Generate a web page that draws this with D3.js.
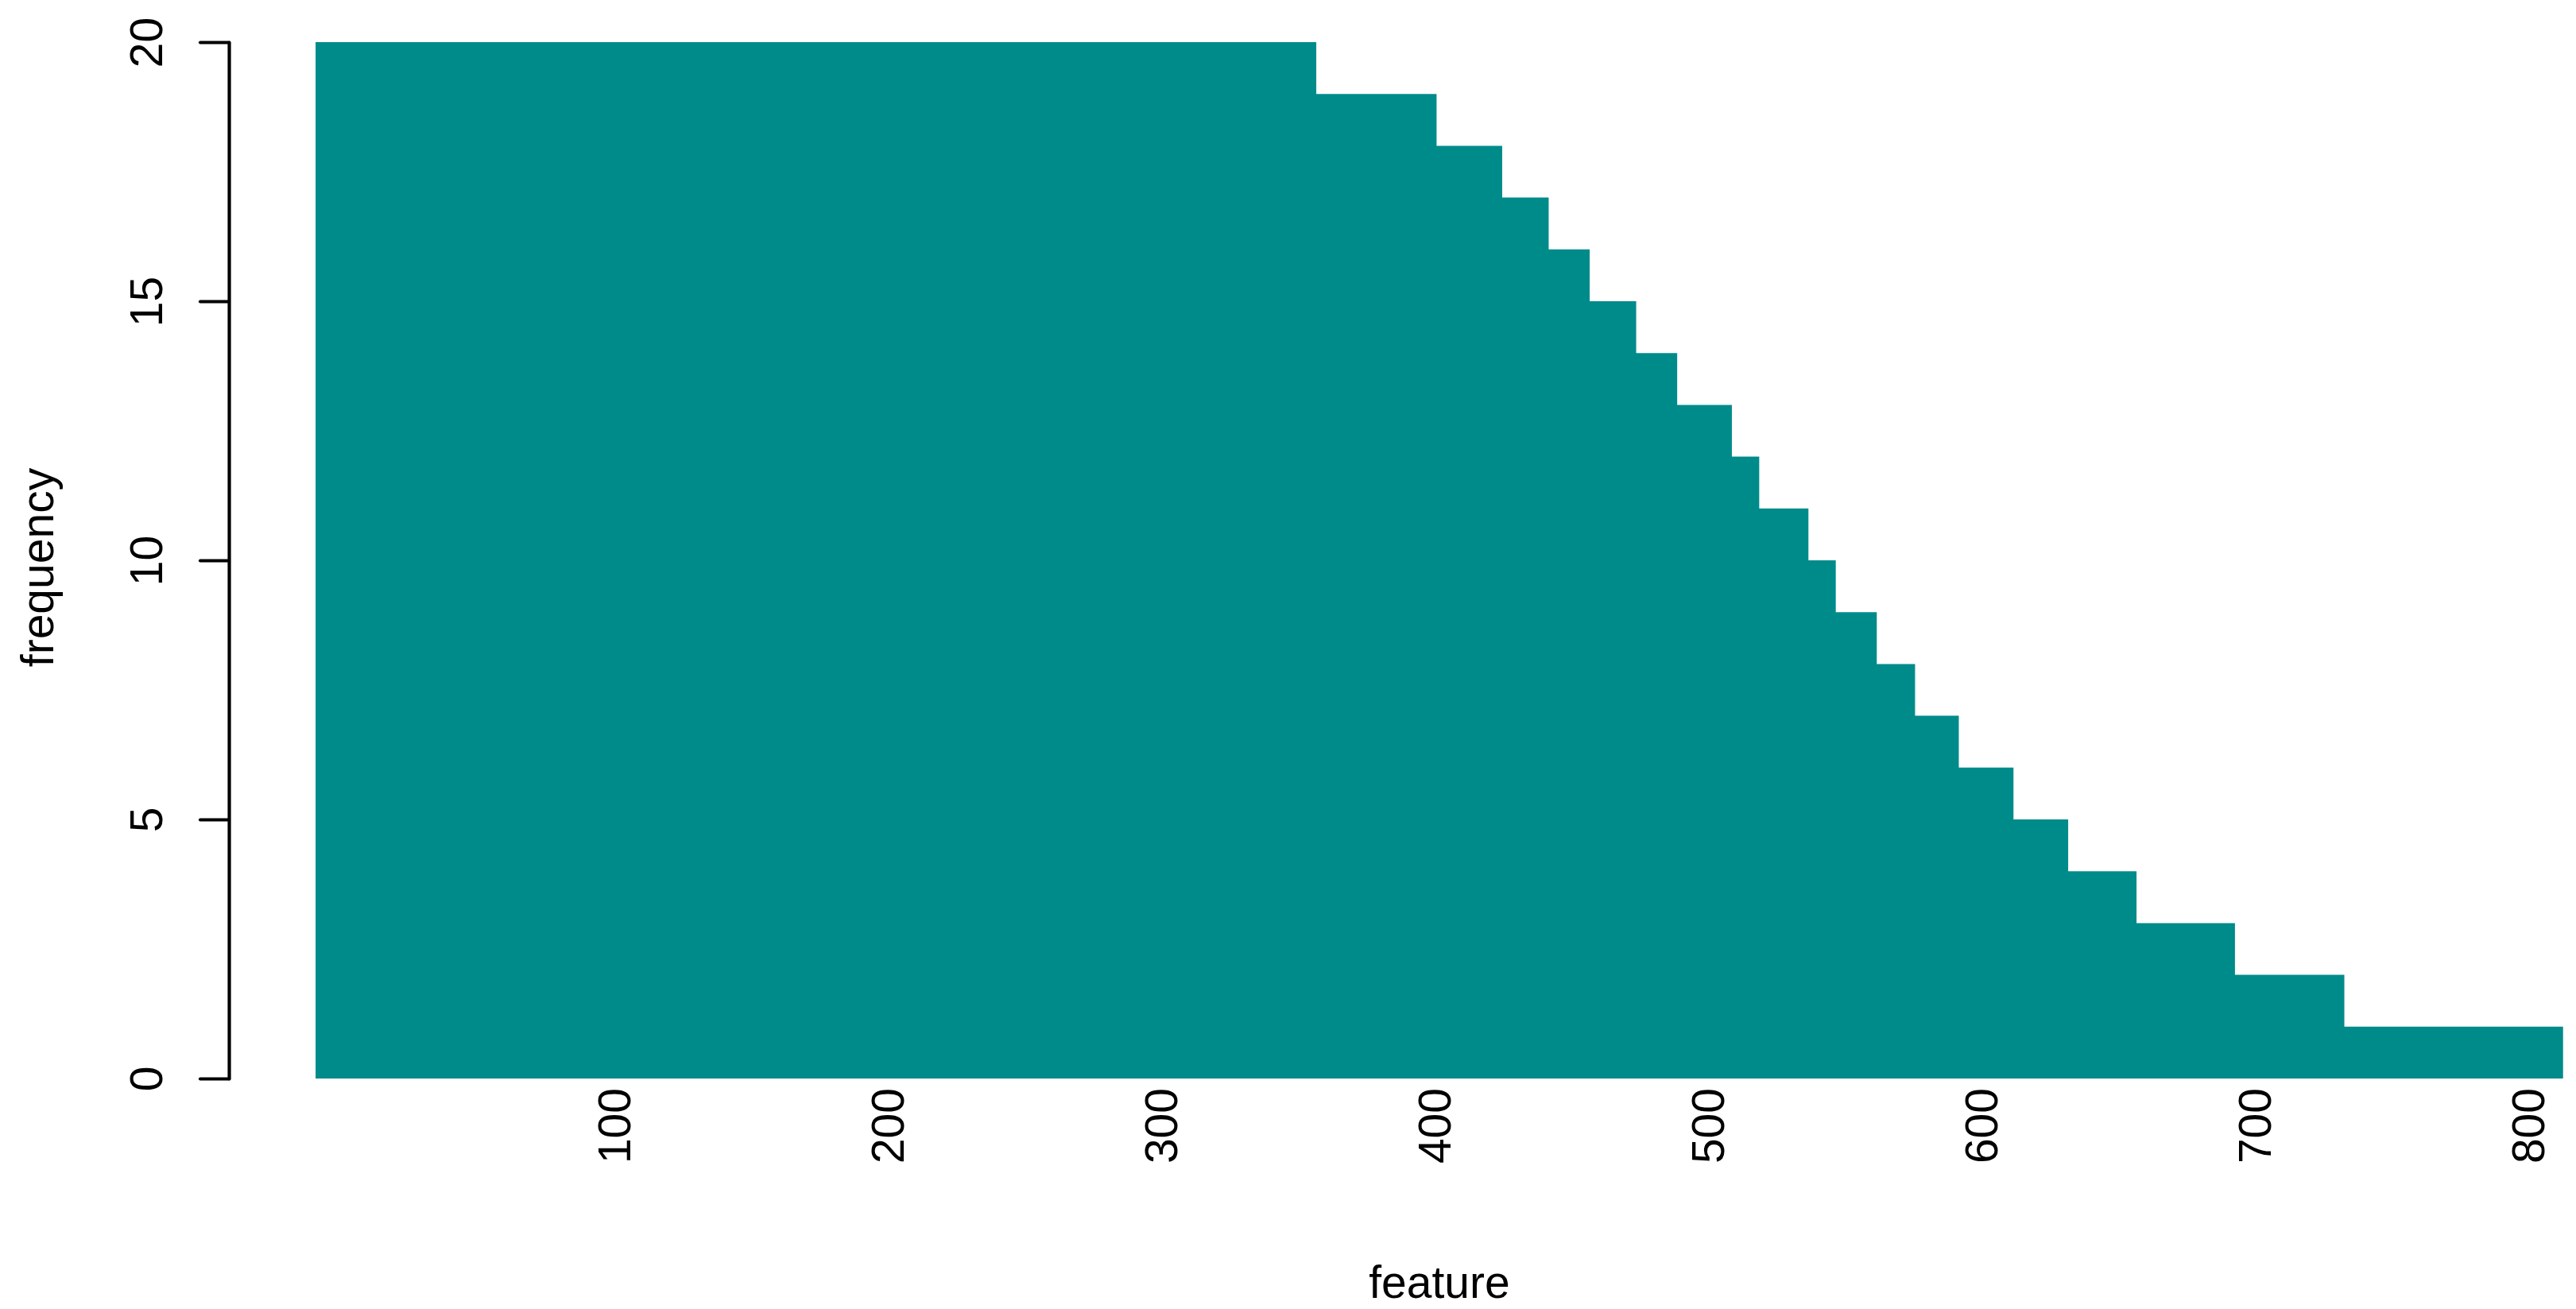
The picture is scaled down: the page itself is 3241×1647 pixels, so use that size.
<!DOCTYPE html>
<html>
<head>
<meta charset="utf-8">
<script src="https://cdn.jsdelivr.net/npm/d3@7"></script>
<style>
  body { margin: 0; background: #fff; }
  svg text { font-family: "Liberation Sans", Arial, Helvetica, sans-serif; }
</style>
</head>
<body>
<div id="chart"></div>
<script>
// frequency levels and the feature index where each level stops
var freqLevels = [20, 19, 18, 17, 16, 15, 14, 13, 12, 11, 10, 9, 8, 7, 6, 5, 4, 3, 2, 1]
var stepEnds = [357, 401, 425, 442, 457, 474, 489, 509, 519, 537, 547, 562, 576, 592, 612, 632, 657, 693, 733, 813]
var firstFeature = -9
var xTicks = [100, 200, 300, 400, 500, 600, 700, 800]
var yTicks = [0, 5, 10, 15, 20]

var width = 3241
var height = 1647
var fontSize = 57

var svg = d3.select('#chart').append("svg")
    .attr("width", width)
    .attr("height", height)

var x = d3.scaleLinear().domain([0, 800]).range([428, 3180])
var y = d3.scaleLinear().domain([0, 20]).range([1357, 53])

// build step points: each level starts where the previous one ended
var pts = freqLevels.map((f, i) => ({
    x: i == 0 ? firstFeature : stepEnds[i - 1],
    f: f
}))
pts.push({ x: stepEnds[stepEnds.length - 1], f: freqLevels[freqLevels.length - 1] })

svg.append("path")
    .datum(pts)
    .attr("fill", "#008B8B")
    .attr("d", d3.area()
        .curve(d3.curveStepAfter)
        .x(d => x(d.x))
        .y0(y(0))
        .y1(d => y(d.f)))

// y axis
var yAxis = svg.append("g")
    .attr("transform", "translate(288,0)")
    .call(d3.axisLeft(y).tickValues(yTicks).tickSize(36).tickSizeOuter(0))
yAxis.selectAll("path, line")
    .attr("stroke", "#000")
    .attr("stroke-width", 4.2)
    .attr("stroke-linecap", "round")
    .attr("stroke-linejoin", "round")
yAxis.selectAll("text")
    .attr("x", null)
    .attr("dy", 0)
    .attr("font-size", fontSize)
    .attr("fill", "#000")
    .attr("text-anchor", "middle")
    .attr("transform", "translate(-84,0) rotate(-90)")

// x axis, labels only
var xAxis = svg.append("g")
    .attr("transform", "translate(0,1369)")
    .call(d3.axisBottom(x).tickValues(xTicks).tickSize(0))
xAxis.select(".domain").remove()
xAxis.selectAll("line").remove()
xAxis.selectAll("text")
    .attr("x", 0)
    .attr("y", 0)
    .attr("dy", "0.36em")
    .attr("font-size", fontSize)
    .attr("fill", "#000")
    .attr("text-anchor", "end")
    .attr("transform", "rotate(-90)")

svg.append("text")
    .attr("transform", "translate(67,714) rotate(-90)")
    .attr("text-anchor", "middle")
    .attr("font-size", fontSize)
    .text("frequency")

svg.append("text")
    .attr("x", 1811)
    .attr("y", 1633)
    .attr("text-anchor", "middle")
    .attr("font-size", fontSize)
    .text("feature")
</script>
</body>
</html>
